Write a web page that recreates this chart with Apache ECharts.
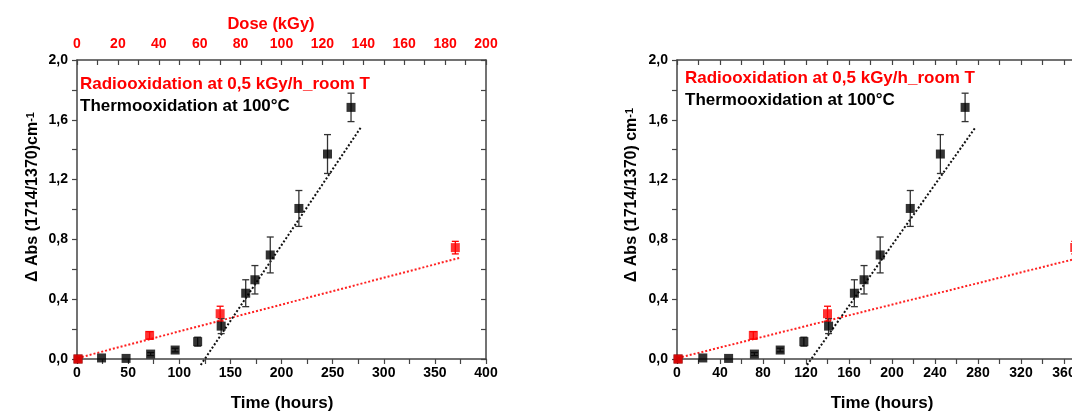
<!DOCTYPE html>
<html>
<head>
<meta charset="utf-8">
<script src="https://cdn.jsdelivr.net/npm/echarts@6/dist/echarts.min.js"></script>
<style>html,body{margin:0;padding:0;background:#fff}#c{width:1072px;height:412px}</style>
</head>
<body>
<div id="c"></div>
<script>
// ---- data ----
const timeBlack = [1, 24, 48, 72, 96, 118, 141, 165, 174, 189, 217, 245, 268];
const absBlack  = [0, 0.007, 0.004, 0.033, 0.06, 0.116, 0.22, 0.44, 0.53, 0.696, 1.007, 1.371, 1.683];
const errBlack  = [0, 0, 0, 0.01, 0.012, 0.03, 0.05, 0.09, 0.095, 0.12, 0.12, 0.13, 0.095];
const timeRed = [1, 71, 140, 370];
const absRed  = [0, 0.158, 0.303, 0.745];
const errRed  = [0, 0.025, 0.05, 0.042];
const fitBlackTime = [121, 278];
const fitBlackAbs  = [-0.04, 1.553];
const fitRedTime = [1, 374];
const fitRedAbs  = [0.007, 0.676];
const yTickLabels = ['0,0', '0,4', '0,8', '1,2', '1,6', '2,0'];
const timeTicksLeft = [0, 50, 100, 150, 200, 250, 300, 350, 400];
const timeTicksRight = [0, 40, 80, 120, 160, 200, 240, 280, 320, 360, 400];
const doseTicks = [0, 20, 40, 60, 80, 100, 120, 140, 160, 180, 200];
const legendRed = 'Radiooxidation at 0,5 kGy/h_room T';
const legendBlack = 'Thermooxidation at 100°C';

const FF = '"Liberation Sans", Arial, sans-serif';
const axisCol = '#444';

function zipPts(xs, ys) { return xs.map((x, i) => [x, ys[i]]); }
function zipErr(xs, ys, es) { return xs.map((x, i) => [x, ys[i], es[i]]); }

function errRender(color) {
  return function (params, api) {
    const x = api.value(0), y = api.value(1), e = api.value(2);
    if (!e) return null;
    const top = api.coord([x, y + e]);
    const bot = api.coord([x, y - e]);
    const w = 3.5;
    const st = { stroke: color, lineWidth: 1.3 };
    return {
      type: 'group',
      children: [
        { type: 'line', shape: { x1: top[0], y1: top[1], x2: bot[0], y2: bot[1] }, style: st },
        { type: 'line', shape: { x1: top[0] - w, y1: top[1], x2: top[0] + w, y2: top[1] }, style: st },
        { type: 'line', shape: { x1: bot[0] - w, y1: bot[1], x2: bot[0] + w, y2: bot[1] }, style: st }
      ]
    };
  };
}

function panelSeries(xi, yi) {
  return [
    { type: 'line', xAxisIndex: xi, yAxisIndex: yi, data: zipPts(fitRedTime, fitRedAbs), showSymbol: false, symbol: 'none', clip: false,
      lineStyle: { color: '#ff2020', width: 2, type: [2, 2] }, z: 2, silent: true },
    { type: 'line', xAxisIndex: xi, yAxisIndex: yi, data: zipPts(fitBlackTime, fitBlackAbs), showSymbol: false, symbol: 'none', clip: false,
      lineStyle: { color: '#111', width: 2, type: [2, 2] }, z: 2, silent: true },
    { type: 'custom', xAxisIndex: xi, yAxisIndex: yi, data: zipErr(timeBlack, absBlack, errBlack), renderItem: errRender('#333'), z: 3, clip: false },
    { type: 'custom', xAxisIndex: xi, yAxisIndex: yi, data: zipErr(timeRed, absRed, errRed), renderItem: errRender('#ff0000'), z: 3, clip: false },
    { type: 'scatter', xAxisIndex: xi, yAxisIndex: yi, data: zipPts(timeBlack, absBlack), symbol: 'rect', symbolSize: 9,
      itemStyle: { color: '#000' }, z: 4, clip: false },
    { type: 'scatter', xAxisIndex: xi, yAxisIndex: yi, data: zipPts(timeRed, absRed), symbol: 'rect', symbolSize: 9,
      itemStyle: { color: '#ff0000' }, z: 5, clip: false }
  ];
}

function baseAxis(extra) {
  const a = {
    type: 'value',
    splitLine: { show: false },
    axisLine: { show: true, onZero: false, lineStyle: { color: axisCol, width: 1.5 } },
    axisTick: { show: true, length: 5, lineStyle: { color: axisCol, width: 1.2 } },
    minorTick: { show: true, splitNumber: 2, length: 5, lineStyle: { color: axisCol, width: 1.2 } },
    axisLabel: { show: true, color: '#000', fontSize: 14, fontWeight: 'bold', fontFamily: FF }
  };
  for (const k in extra) {
    if (typeof extra[k] === 'object' && a[k] && !Array.isArray(extra[k])) a[k] = Object.assign({}, a[k], extra[k]);
    else a[k] = extra[k];
  }
  return a;
}

const yLabelFmt = v => yTickLabels[Math.round(v / 0.4)] ?? '';
const sup = { fontSize: 11, fontWeight: 'bold', fontFamily: FF, verticalAlign: 'top', fill: '#000' };

const option = {
  animation: false,
  backgroundColor: '#fff',
  grid: [
    { left: 77, top: 60, width: 409, height: 299, outerBoundsMode: 'none', containLabel: false },
    { left: 677, top: 60, width: 430, height: 299, outerBoundsMode: 'none', containLabel: false }
  ],
  xAxis: [
    baseAxis({ gridIndex: 0, position: 'bottom', min: timeTicksLeft[0], max: timeTicksLeft[timeTicksLeft.length - 1], interval: timeTicksLeft[1] - timeTicksLeft[0],
      axisLabel: { margin: 7 } }),
    baseAxis({ gridIndex: 0, position: 'top', min: doseTicks[0], max: doseTicks[doseTicks.length - 1], interval: doseTicks[1] - doseTicks[0],
      axisTick: { inside: true },
      axisLabel: { color: '#ff0000', margin: 9, fontSize: 14 } }),
    baseAxis({ gridIndex: 1, position: 'bottom', min: timeTicksRight[0], max: timeTicksRight[timeTicksRight.length - 1], interval: timeTicksRight[1] - timeTicksRight[0],
      axisLabel: { margin: 7 } }),
    baseAxis({ gridIndex: 1, position: 'top', min: timeTicksRight[0], max: timeTicksRight[timeTicksRight.length - 1], interval: timeTicksRight[1] - timeTicksRight[0],
      axisTick: { inside: true }, axisLabel: { show: false } })
  ],
  yAxis: [
    baseAxis({ gridIndex: 0, position: 'left', min: 0, max: 2, interval: 0.4, axisLabel: { margin: 9, formatter: yLabelFmt } }),
    baseAxis({ gridIndex: 0, position: 'right', min: 0, max: 2, interval: 0.4, axisTick: { inside: true }, axisLabel: { show: false } }),
    baseAxis({ gridIndex: 1, position: 'left', min: 0, max: 2, interval: 0.4, axisLabel: { margin: 9, formatter: yLabelFmt } })
  ],
  graphic: [
    { type: 'text', x: 271, y: 24, style: { text: 'Dose (kGy)', font: 'bold 16.5px ' + FF, fill: '#ff0000', align: 'center', verticalAlign: 'middle' } },
    { type: 'text', x: 282, y: 403, style: { text: 'Time (hours)', font: 'bold 17px ' + FF, fill: '#000', align: 'center', verticalAlign: 'middle' } },
    { type: 'text', x: 882, y: 403, style: { text: 'Time (hours)', font: 'bold 17px ' + FF, fill: '#000', align: 'center', verticalAlign: 'middle' } },
    { type: 'text', x: 33, y: 197, rotation: Math.PI / 2,
      style: { text: 'Δ Abs (1714/1370)cm{sup|-1}', font: 'bold 16px ' + FF, fill: '#000', align: 'center', verticalAlign: 'middle', rich: { sup: sup } } },
    { type: 'text', x: 632, y: 195, rotation: Math.PI / 2,
      style: { text: 'Δ Abs (1714/1370) cm{sup|-1}', font: 'bold 16px ' + FF, fill: '#000', align: 'center', verticalAlign: 'middle', rich: { sup: sup } } },
    { type: 'text', x: 80, y: 84, style: { text: legendRed, font: 'bold 17px ' + FF, fill: '#ff0000', align: 'left', verticalAlign: 'middle' } },
    { type: 'text', x: 80, y: 106, style: { text: legendBlack, font: 'bold 17px ' + FF, fill: '#000', align: 'left', verticalAlign: 'middle' } },
    { type: 'text', x: 685, y: 78, style: { text: legendRed, font: 'bold 17px ' + FF, fill: '#ff0000', align: 'left', verticalAlign: 'middle' } },
    { type: 'text', x: 685, y: 100, style: { text: legendBlack, font: 'bold 17px ' + FF, fill: '#000', align: 'left', verticalAlign: 'middle' } }
  ],
  series: [].concat(panelSeries(0, 0), panelSeries(2, 2))
};

const chart = echarts.init(document.getElementById('c'), null, { renderer: 'canvas' });
chart.setOption(option);
</script>
</body>
</html>
